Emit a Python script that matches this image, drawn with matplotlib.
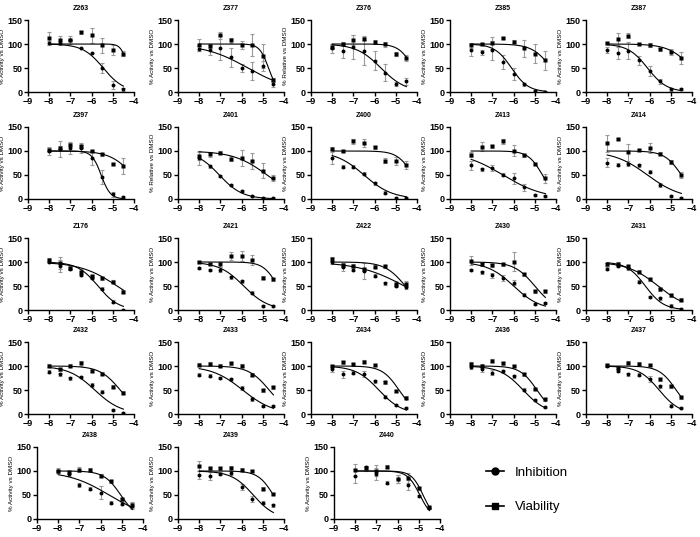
import matplotlib
matplotlib.use("Agg")
import matplotlib.pyplot as plt
from matplotlib.lines import Line2D
import numpy as np

plt.rcParams['font.family'] = ['Liberation Sans', 'DejaVu Sans']

# log10 [compound] (M)
doses = [-8, -7.5, -7, -6.5, -6, -5.5, -5, -4.5]

names = ["Z263", "Z377", "Z376", "Z385", "Z387",
         "Z397", "Z401", "Z400", "Z413", "Z414",
         "Z176", "Z421", "Z422", "Z430", "Z431",
         "Z432", "Z433", "Z434", "Z436", "Z437",
         "Z438", "Z439", "Z440"]

ylabels = ["% Activity vs DMSO"] * len(names)
ylabels[2] = "% Relative vs DMSO"
ylabels[6] = "% Relative vs DMSO"

# Inhibition (circles)
inh_vals = [
    [102, 102, 108, 91, 82, 50, 15, 6],
    [90, 88, 92, 72, 50, 44, 54, 16],
    [91, 86, 93, 86, 65, 40, 16, 22],
    [88, 83, 87, 63, 38, 16, 3, 1],
    [88, 81, 86, 66, 44, 22, 6, 6],
    [100, 104, 106, 106, 86, 46, 10, 4],
    [85, 68, 47, 30, 17, 6, 2, 2],
    [85, 67, 67, 53, 33, 13, 3, 3],
    [70, 62, 64, 51, 43, 24, 9, 7],
    [76, 71, 72, 70, 57, 29, 7, 2],
    [101, 92, 86, 73, 67, 44, 17, 1],
    [88, 83, 84, 68, 60, 36, 8, 8],
    [99, 89, 84, 81, 71, 56, 51, 47],
    [83, 79, 72, 67, 57, 32, 12, 14],
    [86, 92, 87, 59, 27, 24, 9, 2],
    [88, 83, 74, 77, 61, 46, 8, 3],
    [82, 80, 75, 72, 54, 31, 17, 17],
    [93, 83, 86, 83, 68, 36, 18, 12],
    [97, 93, 86, 89, 79, 51, 30, 15],
    [101, 90, 83, 82, 73, 58, 17, 12],
    [99, 94, 71, 63, 55, 34, 32, 27],
    [92, 90, 94, 96, 66, 42, 34, 29],
    [90, 108, 94, 76, 83, 71, 48, 23],
]
inh_err = [
    [4, 4, 0, 0, 0, 10, 8, 3],
    [5, 10, 25, 20, 8, 18, 10, 6],
    [10, 15, 25, 30, 20, 18, 4, 7],
    [12, 5, 20, 15, 12, 3, 2, 1],
    [6, 12, 18, 10, 10, 5, 3, 2],
    [8, 16, 12, 10, 15, 15, 5, 2],
    [15, 3, 2, 2, 2, 2, 2, 2],
    [12, 3, 3, 3, 3, 3, 2, 2],
    [10, 3, 6, 3, 12, 8, 2, 2],
    [10, 3, 3, 3, 3, 5, 2, 2],
    [3, 12, 3, 3, 3, 3, 3, 2],
    [2, 2, 5, 3, 3, 3, 2, 2],
    [3, 8, 3, 16, 3, 3, 3, 3],
    [2, 3, 5, 6, 5, 3, 2, 2],
    [3, 3, 3, 3, 3, 3, 3, 2],
    [3, 3, 3, 3, 4, 3, 2, 2],
    [3, 3, 3, 3, 5, 4, 2, 2],
    [5, 7, 3, 6, 3, 3, 2, 2],
    [3, 5, 5, 3, 3, 3, 2, 2],
    [3, 3, 3, 3, 6, 3, 3, 2],
    [3, 5, 4, 3, 13, 3, 3, 7],
    [8, 8, 3, 5, 6, 6, 3, 3],
    [15, 3, 12, 3, 8, 10, 3, 3],
]
# Viability (squares)
via_vals = [
    [112, 108, 108, 124, 118, 97, 87, 80],
    [98, 96, 118, 108, 98, 98, 76, 25],
    [94, 101, 108, 111, 104, 99, 80, 71],
    [97, 100, 102, 112, 105, 91, 80, 66],
    [102, 110, 117, 101, 98, 89, 83, 71],
    [103, 107, 113, 110, 100, 93, 73, 69],
    [90, 93, 96, 84, 86, 79, 59, 43],
    [105, 100, 120, 116, 108, 80, 79, 71],
    [92, 109, 110, 120, 101, 91, 73, 43],
    [116, 125, 97, 102, 106, 94, 77, 50],
    [104, 98, 88, 80, 70, 66, 59, 38],
    [100, 96, 95, 113, 112, 104, 67, 64],
    [106, 93, 92, 85, 90, 91, 55, 54],
    [103, 95, 93, 95, 101, 74, 39, 39],
    [95, 96, 91, 80, 64, 43, 31, 21],
    [101, 93, 101, 106, 90, 84, 57, 44],
    [103, 105, 101, 106, 101, 82, 49, 56],
    [100, 108, 104, 109, 102, 66, 48, 34],
    [105, 101, 111, 106, 100, 83, 52, 31],
    [102, 96, 107, 105, 102, 72, 58, 35],
    [101, 97, 103, 103, 90, 79, 41, 29],
    [111, 106, 106, 106, 103, 100, 63, 52],
    [102, 106, 101, 109, 83, 86, 64, 24],
]
via_err = [
    [14, 8, 8, 3, 16, 15, 10, 6],
    [12, 5, 8, 5, 8, 22, 25, 5],
    [5, 3, 10, 3, 5, 5, 4, 7],
    [5, 3, 12, 2, 3, 18, 20, 20],
    [3, 12, 5, 2, 5, 3, 6, 12],
    [3, 3, 3, 3, 3, 3, 3, 17],
    [8, 5, 3, 5, 17, 16, 15, 6],
    [3, 3, 5, 8, 3, 5, 8, 8],
    [5, 10, 3, 6, 12, 3, 3, 10],
    [18, 3, 18, 3, 10, 3, 5, 6],
    [5, 12, 3, 5, 3, 3, 3, 3],
    [2, 2, 5, 8, 10, 10, 3, 3],
    [5, 3, 3, 3, 3, 3, 5, 7],
    [10, 3, 3, 3, 20, 3, 3, 3],
    [3, 3, 3, 3, 3, 3, 3, 3],
    [3, 3, 3, 5, 3, 3, 3, 3],
    [3, 3, 3, 3, 3, 3, 3, 3],
    [3, 3, 3, 3, 3, 3, 3, 3],
    [3, 3, 3, 3, 3, 3, 3, 3],
    [3, 3, 3, 3, 3, 3, 3, 3],
    [5, 3, 5, 3, 3, 3, 3, 7],
    [10, 3, 3, 5, 3, 3, 3, 3],
    [12, 5, 12, 3, 8, 10, 3, 3],
]

# fitted dose-response parameters (logIC50, Hill slope), top=100, bottom=0
inh_logic50 = [-5.45, -5.7, -5.7, -6.1, -6.1, -5.55, -7.05, -6.5, -6.5, -6.1,
               -5.7, -5.9, -4.6, -6.0, -6.2, -5.85, -5.95, -5.8, -5.55, -5.55,
               -5.6, -5.45, -4.95]
inh_hill = [0.9, 0.42, 0.75, 1.1, 0.95, 2.0, 0.8, 0.65, 0.45, 0.55,
            0.9, 0.75, 0.4, 0.7, 1.0, 0.7, 0.6, 0.8, 0.8, 0.9,
            0.45, 0.85, 1.5]
via_logic50 = [-4.29, -4.73, -4.18, -4.22, -4.0, -4.05, -4.8, -4.2, -4.64, -4.5,
               -4.8, -4.3, -4.55, -5.0, -5.6, -4.65, -4.7, -4.85, -4.9, -4.75,
               -5.05, -4.5, -4.8]
via_hill = [2.8, 2.05, 1.3, 0.97, 0.8, 0.8, 0.55, 1.2, 1.3, 1.1,
            0.5, 1.3, 0.9, 0.9, 0.6, 0.9, 0.9, 1.1, 1.1, 1.1,
            1.1, 1.2, 1.6]


def dose_resp(x, logic50, hill):
    return 100.0 / (1 + 10 ** ((x - logic50) * hill))


# layout in pixels (700 x 537 figure)
W, H = 700, 537
col_left = [[28, 178, 311, 450, 586]] * 4 + [[37, 178, 334]]
row_top = [20, 127, 238, 342, 447]
ax_w, ax_h = 106, 72

fig = plt.figure(figsize=(7, 5.37), dpi=100)
xs = np.linspace(-8, -4.5, 200)
errc = "#9a9a9a"

k = 0
for r in range(5):
    for c in range(len(col_left[r])):
        ax = fig.add_axes([col_left[r][c] / W, 1 - (row_top[r] + ax_h) / H,
                           ax_w / W, ax_h / H])
        ax.errorbar(doses, via_vals[k], yerr=via_err[k], fmt="none",
                    ecolor=errc, elinewidth=0.8, capsize=1.5, capthick=0.8)
        ax.errorbar(doses, inh_vals[k], yerr=inh_err[k], fmt="none",
                    ecolor=errc, elinewidth=0.8, capsize=1.5, capthick=0.8)
        ax.plot(xs, dose_resp(xs, via_logic50[k], via_hill[k]), color="black", lw=0.8)
        ax.plot(xs, dose_resp(xs, inh_logic50[k], inh_hill[k]), color="black", lw=0.8)
        ax.plot(doses, via_vals[k], "s", color="black", ms=2.6, mec="none")
        ax.plot(doses, inh_vals[k], "o", color="black", ms=2.8, mec="none")

        ax.set_xlim(-9, -4)
        ax.set_ylim(0, 150)
        ax.set_xticks([-9, -8, -7, -6, -5, -4])
        ax.set_yticks([0, 50, 100, 150])
        for s in ["top", "right"]:
            ax.spines[s].set_visible(False)
        for s in ["left", "bottom"]:
            ax.spines[s].set_linewidth(1.0)
        ax.tick_params(direction="out", length=3, width=1.0, pad=1,
                       labelsize=6.5)
        ax.tick_params(axis="x", pad=0.5)
        for lab in ax.get_xticklabels() + ax.get_yticklabels():
            lab.set_fontweight("bold")
        ax.set_title(names[k], fontsize=5, fontweight="bold", pad=7)
        ax.set_ylabel(ylabels[k], fontsize=4.5, labelpad=2)
        k += 1

handles = [Line2D([], [], color="black", marker="o", ms=5, lw=1.2),
           Line2D([], [], color="black", marker="s", ms=5, lw=1.2)]
fig.legend(handles, ["Inhibition", "Viability"], loc="center left",
           bbox_to_anchor=(474 / W, 1 - 490 / H), frameon=False,
           handlelength=1.4, labelspacing=1.7,
           prop={"family": ["Liberation Sans Narrow", "Liberation Sans"], "size": 9.5})

fig.savefig("out.png", dpi=100)
